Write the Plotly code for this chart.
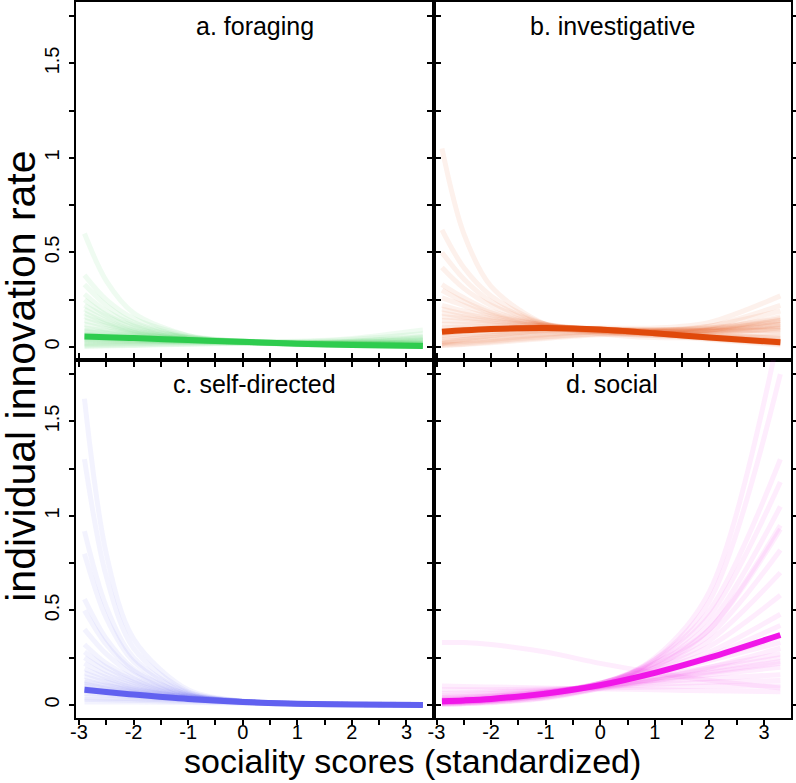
import plotly.graph_objects as go
from plotly.subplots import make_subplots

# x positions (standardized sociality scores) at which each posterior curve is sampled
X_GRID = [-2.9, -2.5, -2.0, -1.0, 0.0, 1.0, 2.0, 3.3]

PANEL_TITLES = ["a. foraging", "b. investigative", "c. self-directed", "d. social"]
X_TICKS = [-3, -2, -1, 0, 1, 2, 3]
X_TICK_TEXT = ["-3", "-2", "-1", "0", "1", "2", "3"]
Y_TICKS = [0, 0.5, 1, 1.5]
Y_TICK_TEXT = ["0", "0.5", "1", "1.5"]

# ---- a. foraging ----
foraging_mean = [0.055, 0.052, 0.047, 0.037, 0.027, 0.017, 0.010, 0.005]
foraging_samples = [
    [0.60, 0.35, 0.18, 0.06, 0.025, 0.012, 0.008, 0.006],
    [0.38, 0.25, 0.15, 0.06, 0.03, 0.02, 0.02, 0.03],
    [0.33, 0.22, 0.13, 0.055, 0.028, 0.018, 0.015, 0.015],
    [0.28, 0.19, 0.12, 0.05, 0.025, 0.015, 0.012, 0.012],
    [0.25, 0.17, 0.11, 0.05, 0.03, 0.025, 0.03, 0.05],
    [0.22, 0.16, 0.10, 0.05, 0.03, 0.02, 0.02, 0.02],
    [0.20, 0.14, 0.09, 0.045, 0.028, 0.022, 0.025, 0.04],
    [0.18, 0.13, 0.085, 0.045, 0.025, 0.015, 0.01, 0.008],
    [0.16, 0.12, 0.08, 0.04, 0.03, 0.03, 0.045, 0.09],
    [0.14, 0.11, 0.075, 0.04, 0.025, 0.018, 0.015, 0.012],
    [0.12, 0.095, 0.07, 0.04, 0.025, 0.02, 0.025, 0.045],
    [0.10, 0.085, 0.065, 0.04, 0.028, 0.02, 0.018, 0.02],
    [0.09, 0.075, 0.06, 0.038, 0.025, 0.016, 0.01, 0.006],
    [0.08, 0.07, 0.055, 0.038, 0.03, 0.028, 0.04, 0.07],
    [0.07, 0.062, 0.052, 0.037, 0.025, 0.015, 0.008, 0.003],
    [0.06, 0.055, 0.048, 0.035, 0.025, 0.02, 0.02, 0.025],
    [0.05, 0.046, 0.042, 0.033, 0.025, 0.017, 0.011, 0.006],
    [0.04, 0.038, 0.035, 0.03, 0.024, 0.02, 0.018, 0.018],
    [0.03, 0.03, 0.03, 0.028, 0.025, 0.022, 0.025, 0.035],
    [0.02, 0.021, 0.022, 0.024, 0.022, 0.018, 0.014, 0.01],
    [0.012, 0.014, 0.017, 0.021, 0.022, 0.02, 0.02, 0.022],
    [0.006, 0.008, 0.011, 0.016, 0.02, 0.022, 0.03, 0.055],
    [0.003, 0.005, 0.008, 0.014, 0.018, 0.018, 0.015, 0.012],
    [0.045, 0.042, 0.038, 0.03, 0.022, 0.014, 0.008, 0.003],
    [0.035, 0.034, 0.033, 0.03, 0.026, 0.02, 0.015, 0.01],
    [0.065, 0.058, 0.05, 0.036, 0.026, 0.018, 0.013, 0.01],
]

# ---- b. investigative ----
investigative_mean = [0.08, 0.088, 0.095, 0.10, 0.092, 0.072, 0.05, 0.025]
investigative_samples = [
    [1.05, 0.60, 0.32, 0.12, 0.07, 0.05, 0.05, 0.06],
    [0.62, 0.42, 0.27, 0.12, 0.08, 0.06, 0.07, 0.10],
    [0.50, 0.36, 0.24, 0.12, 0.08, 0.07, 0.09, 0.16],
    [0.42, 0.31, 0.22, 0.12, 0.085, 0.07, 0.08, 0.12],
    [0.33, 0.26, 0.19, 0.12, 0.09, 0.085, 0.11, 0.22],
    [0.30, 0.24, 0.18, 0.115, 0.09, 0.08, 0.09, 0.14],
    [0.26, 0.22, 0.17, 0.115, 0.09, 0.075, 0.07, 0.07],
    [0.22, 0.19, 0.16, 0.115, 0.095, 0.09, 0.11, 0.19],
    [0.20, 0.175, 0.15, 0.11, 0.09, 0.075, 0.06, 0.045],
    [0.18, 0.16, 0.14, 0.11, 0.095, 0.09, 0.10, 0.14],
    [0.16, 0.15, 0.135, 0.11, 0.09, 0.07, 0.05, 0.03],
    [0.14, 0.135, 0.125, 0.105, 0.09, 0.08, 0.08, 0.09],
    [0.12, 0.12, 0.115, 0.105, 0.095, 0.085, 0.09, 0.12],
    [0.10, 0.105, 0.105, 0.10, 0.09, 0.07, 0.05, 0.025],
    [0.09, 0.095, 0.10, 0.10, 0.095, 0.09, 0.10, 0.15],
    [0.07, 0.08, 0.09, 0.095, 0.09, 0.075, 0.055, 0.03],
    [0.06, 0.07, 0.08, 0.09, 0.09, 0.085, 0.085, 0.10],
    [0.05, 0.06, 0.07, 0.085, 0.085, 0.07, 0.045, 0.02],
    [0.04, 0.05, 0.06, 0.08, 0.09, 0.09, 0.095, 0.13],
    [0.03, 0.04, 0.05, 0.07, 0.08, 0.07, 0.05, 0.02],
    [0.02, 0.03, 0.04, 0.065, 0.08, 0.085, 0.09, 0.11],
    [0.015, 0.022, 0.033, 0.055, 0.07, 0.065, 0.045, 0.015],
    [0.01, 0.016, 0.028, 0.05, 0.07, 0.08, 0.085, 0.09],
    [0.008, 0.013, 0.022, 0.045, 0.065, 0.06, 0.04, 0.01],
    [0.02, 0.04, 0.06, 0.09, 0.10, 0.10, 0.13, 0.27],
    [0.085, 0.09, 0.095, 0.098, 0.09, 0.075, 0.055, 0.035],
    [0.075, 0.085, 0.09, 0.095, 0.092, 0.08, 0.065, 0.045],
]

# ---- c. self-directed ----
selfdirected_mean = [0.08, 0.068, 0.055, 0.032, 0.016, 0.006, 0.002, 0.0]
selfdirected_samples = [
    [1.62, 0.80, 0.35, 0.08, 0.02, 0.005, 0.002, 0.001],
    [1.30, 0.68, 0.30, 0.07, 0.02, 0.006, 0.002, 0.001],
    [0.92, 0.52, 0.25, 0.065, 0.02, 0.006, 0.002, 0.001],
    [0.80, 0.46, 0.23, 0.06, 0.018, 0.006, 0.002, 0.0],
    [0.56, 0.35, 0.19, 0.055, 0.018, 0.006, 0.002, 0.0],
    [0.50, 0.32, 0.18, 0.055, 0.02, 0.008, 0.004, 0.002],
    [0.40, 0.27, 0.16, 0.05, 0.018, 0.007, 0.003, 0.001],
    [0.32, 0.22, 0.14, 0.05, 0.018, 0.007, 0.003, 0.001],
    [0.28, 0.20, 0.13, 0.048, 0.018, 0.008, 0.004, 0.002],
    [0.25, 0.18, 0.12, 0.045, 0.018, 0.007, 0.003, 0.001],
    [0.22, 0.16, 0.11, 0.045, 0.018, 0.008, 0.004, 0.002],
    [0.19, 0.145, 0.10, 0.042, 0.018, 0.008, 0.004, 0.002],
    [0.17, 0.13, 0.09, 0.04, 0.018, 0.008, 0.004, 0.002],
    [0.15, 0.12, 0.085, 0.04, 0.017, 0.007, 0.003, 0.001],
    [0.13, 0.105, 0.08, 0.04, 0.018, 0.008, 0.004, 0.002],
    [0.12, 0.10, 0.075, 0.038, 0.017, 0.007, 0.003, 0.001],
    [0.11, 0.09, 0.07, 0.036, 0.017, 0.008, 0.004, 0.002],
    [0.10, 0.083, 0.065, 0.035, 0.016, 0.007, 0.003, 0.001],
    [0.09, 0.075, 0.06, 0.033, 0.016, 0.007, 0.003, 0.001],
    [0.07, 0.06, 0.05, 0.03, 0.015, 0.007, 0.003, 0.002],
    [0.06, 0.052, 0.043, 0.027, 0.014, 0.006, 0.003, 0.001],
    [0.04, 0.037, 0.033, 0.023, 0.013, 0.006, 0.003, 0.001],
    [0.03, 0.028, 0.025, 0.018, 0.011, 0.005, 0.002, 0.001],
    [0.015, 0.015, 0.015, 0.013, 0.01, 0.006, 0.004, 0.003],
    [0.085, 0.072, 0.058, 0.034, 0.017, 0.007, 0.003, 0.001],
]

# ---- d. social ----
social_mean = [0.02, 0.024, 0.032, 0.06, 0.105, 0.17, 0.25, 0.37]
social_samples = [
    [0.005, 0.008, 0.015, 0.04, 0.10, 0.25, 0.60, 2.0],
    [0.005, 0.008, 0.015, 0.04, 0.10, 0.24, 0.55, 1.75],
    [0.008, 0.012, 0.02, 0.05, 0.11, 0.24, 0.50, 1.30],
    [0.01, 0.014, 0.022, 0.05, 0.11, 0.23, 0.47, 1.18],
    [0.01, 0.015, 0.024, 0.055, 0.115, 0.22, 0.43, 1.05],
    [0.012, 0.017, 0.026, 0.057, 0.115, 0.22, 0.40, 0.93],
    [0.014, 0.019, 0.028, 0.06, 0.115, 0.21, 0.37, 0.82],
    [0.016, 0.021, 0.03, 0.062, 0.115, 0.20, 0.34, 0.70],
    [0.018, 0.023, 0.032, 0.063, 0.115, 0.195, 0.31, 0.58],
    [0.02, 0.025, 0.034, 0.064, 0.113, 0.185, 0.28, 0.48],
    [0.022, 0.027, 0.036, 0.065, 0.11, 0.175, 0.26, 0.42],
    [0.025, 0.03, 0.038, 0.066, 0.108, 0.165, 0.235, 0.33],
    [0.03, 0.034, 0.042, 0.067, 0.105, 0.15, 0.20, 0.27],
    [0.035, 0.04, 0.047, 0.07, 0.10, 0.135, 0.175, 0.23],
    [0.04, 0.045, 0.052, 0.072, 0.10, 0.13, 0.16, 0.20],
    [0.05, 0.054, 0.06, 0.077, 0.098, 0.12, 0.14, 0.16],
    [0.06, 0.063, 0.068, 0.08, 0.095, 0.11, 0.12, 0.13],
    [0.08, 0.08, 0.08, 0.085, 0.09, 0.095, 0.10, 0.10],
    [0.10, 0.098, 0.095, 0.09, 0.085, 0.08, 0.075, 0.07],
    [0.015, 0.018, 0.025, 0.05, 0.09, 0.14, 0.19, 0.25],
    [0.01, 0.013, 0.02, 0.045, 0.085, 0.13, 0.17, 0.22],
    [0.03, 0.035, 0.045, 0.07, 0.10, 0.14, 0.20, 0.30],
    [0.33, 0.33, 0.32, 0.28, 0.22, 0.17, 0.13, 0.09],
    [0.005, 0.007, 0.012, 0.035, 0.09, 0.20, 0.40, 0.95],
    [0.02, 0.025, 0.033, 0.062, 0.107, 0.168, 0.245, 0.36],
]

PANELS = [
    (foraging_samples, foraging_mean, (46, 204, 78), 1, 1),
    (investigative_samples, investigative_mean, (224, 73, 10), 1, 2),
    (selfdirected_samples, selfdirected_mean, (97, 97, 240), 2, 1),
    (social_samples, social_mean, (240, 22, 232), 2, 2),
]

FONT = "Liberation Sans, Arial, Helvetica, sans-serif"

fig = make_subplots(rows=2, cols=2, horizontal_spacing=0, vertical_spacing=0,
                    shared_xaxes=True, shared_yaxes=True)

for samples, mean, (r, g, b), row, col in PANELS:
    for s in samples:
        fig.add_trace(go.Scatter(
            x=X_GRID, y=s, mode="lines",
            line=dict(color=f"rgba({r},{g},{b},0.08)", width=5, shape="spline", smoothing=0.9),
            hoverinfo="skip", showlegend=False), row=row, col=col)
    fig.add_trace(go.Scatter(
        x=X_GRID, y=mean, mode="lines",
        line=dict(color=f"rgb({r},{g},{b})", width=6, shape="spline", smoothing=0.9),
        showlegend=False), row=row, col=col)

axis_common = dict(showline=True, linecolor="black", linewidth=2, mirror="ticks",
                   ticks="outside", ticklen=5, tickwidth=2, tickcolor="black",
                   showgrid=False, zeroline=False, automargin=False,
                   tickfont=dict(family=FONT, size=20, color="black"))

for row in (1, 2):
    for col in (1, 2):
        fig.update_xaxes(range=[-3.055, 3.495], tickvals=X_TICKS, ticktext=X_TICK_TEXT,
                         ticklabelstandoff=-10,
                         minor=dict(dtick=0.5, tick0=0, ticks="outside", ticklen=5,
                                    tickwidth=2, tickcolor="black", showgrid=False),
                         showticklabels=(row == 2), row=row, col=col, **axis_common)
        fig.update_yaxes(range=[-0.069, 1.825], tickvals=Y_TICKS, ticktext=Y_TICK_TEXT,
                         tickangle=-90, ticklabelstandoff=2,
                         minor=dict(dtick=0.25, tick0=0, ticks="outside", ticklen=5,
                                    tickwidth=2, tickcolor="black", showgrid=False),
                         showticklabels=(col == 1), row=row, col=col, **axis_common)

# panel titles
centers = [(0.25, 1.0), (0.75, 1.0), (0.25, 0.5), (0.75, 0.5)]
for title, (cx, cy) in zip(PANEL_TITLES, centers):
    fig.add_annotation(text=title, x=cx, y=cy, xref="paper", yref="paper",
                       xanchor="center", yanchor="top", yshift=-8, showarrow=False,
                       font=dict(family=FONT, size=25, color="black"))

fig.add_annotation(text="individual innovation rate", x=-0.0765, y=0.477,
                   xref="paper", yref="paper", textangle=-90, showarrow=False,
                   xanchor="center", yanchor="middle",
                   font=dict(family=FONT, size=41, color="black"))
fig.add_annotation(text="sociality scores (standardized)", x=0.47, y=-0.06,
                   xref="paper", yref="paper", showarrow=False,
                   xanchor="center", yanchor="middle",
                   font=dict(family=FONT, size=34, color="black"))

fig.update_layout(width=796, height=783, margin=dict(l=76, r=5, t=2, b=65, autoexpand=False),
                  plot_bgcolor="white", paper_bgcolor="white",
                  font=dict(family=FONT))

fig.write_html("out.html", config={"displayModeBar": False},
               post_script="document.body.style.margin='0';document.body.style.overflow='hidden';")
